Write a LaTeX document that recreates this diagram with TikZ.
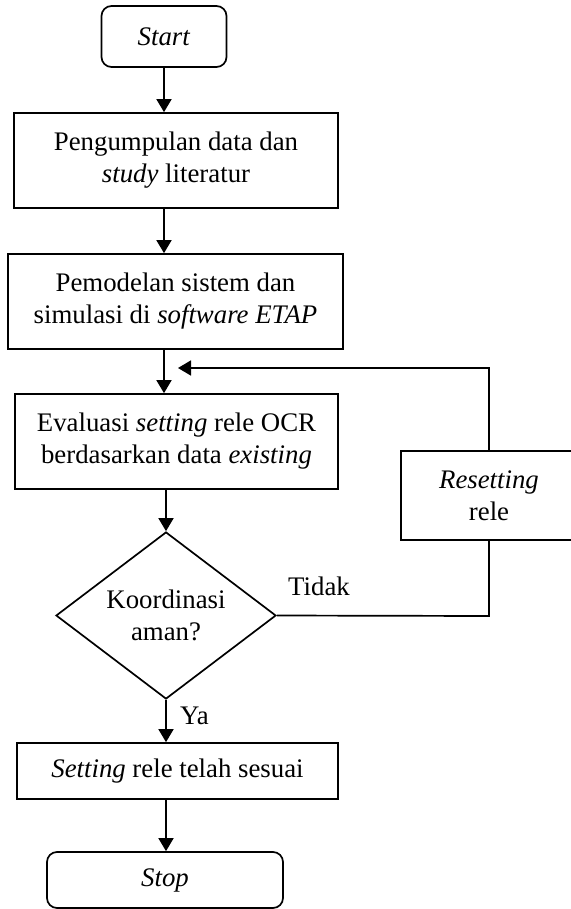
\documentclass[tikz,border=0pt]{standalone}
\usepackage{fontspec}
\setmainfont{Liberation Serif}
\usetikzlibrary{shapes.geometric,arrows.meta}
\begin{document}
\begin{tikzpicture}[x=1pt,y=-1pt,
  every node/.style={font=\fontsize{26.8}{32}\selectfont, align=center, inner sep=0pt},
  box/.style={draw, line width=1.7pt, rectangle},
  term/.style={draw, line width=1.7pt, rectangle, rounded corners=10pt},
  decision/.style={draw, line width=1.7pt, diamond, aspect=1.32, minimum width=220pt, minimum height=167pt},
  arr/.style={line width=1.7pt, -{Triangle[length=13pt,width=15pt]}},
  ln/.style={line width=1.7pt}]
\useasboundingbox (0,0) rectangle (570,909);
\node[term, minimum width=125pt, minimum height=61pt] (start) at (164,36.5) {\textit{Start}};
\node[box, minimum width=324pt, minimum height=95pt] (b1) at (176,160.5) {Pengumpulan data dan\\\textit{study} literatur};
\node[box, minimum width=335pt, minimum height=95pt] (b2) at (175.5,301.5) {Pemodelan sistem dan\\simulasi di \textit{software ETAP}};
\node[box, minimum width=323pt, minimum height=95pt] (b3) at (176.5,441.5) {Evaluasi \textit{setting} rele OCR\\berdasarkan data \textit{existing}};
\node[decision] (dia) at (166,615.5) {Koordinasi\\aman?};
\node[box, minimum width=321pt, minimum height=56pt] (b4) at (177.5,771) {\textit{Setting} rele telah sesuai};
\node[term, minimum width=236pt, minimum height=56pt] (stop) at (165,880) {\textit{Stop}};
\node[box, minimum width=176pt, minimum height=89pt] (reset) at (489,495.5) {\textit{Resetting}\\rele};
\node (tidak) at (319,586) {Tidak};
\node[anchor=west] (ya) at (180,716) {Ya};
\coordinate (fb) at (178,368);
\coordinate (c1) at (489,616);
\coordinate (c2) at (489,368);
\draw[arr] (start.south) -- (start.south |- b1.north);
\draw[arr] (start.south |- b1.south) -- (start.south |- b2.north);
\draw[arr] (start.south |- b2.south) -- (start.south |- b3.north);
\draw[arr] (dia.north |- b3.south) -- (dia.north);
\draw[arr] (dia.south) -- (dia.south |- b4.north);
\draw[arr] (dia.south |- b4.south) -- (dia.south |- stop.north);
\draw[ln] (dia.east) -- (c1) -- (reset.south);
\draw[arr] (reset.north) -- (c2) -- (fb);
\end{tikzpicture}
\end{document}
